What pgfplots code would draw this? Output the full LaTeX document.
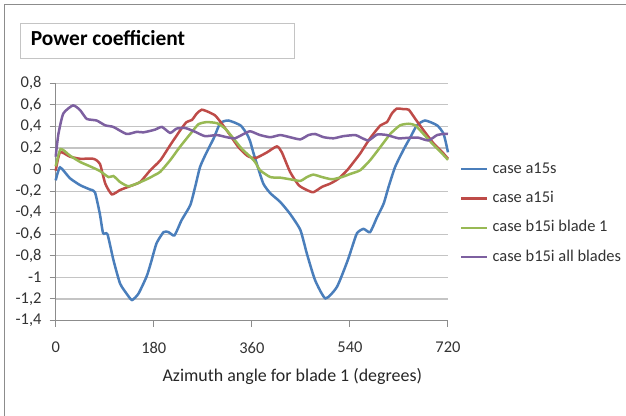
\documentclass[border=0pt]{standalone}
\usepackage{pgfplots}
\pgfplotsset{compat=1.18}
\usepackage{fontspec}
\setmainfont{Carlito}
\definecolor{cblue}{HTML}{4A7EBB}
\definecolor{cred}{HTML}{BE4B48}
\definecolor{cgreen}{HTML}{98B954}
\definecolor{cpurple}{HTML}{7D60A0}
\definecolor{gridc}{HTML}{C4C4C4}
\definecolor{axc}{HTML}{8C8C8C}
\begin{document}
\begin{tikzpicture}
\path[use as bounding box] (0,0) rectangle (626bp,-416bp);
\draw[axc, line width=1.5bp] (4.5bp,-416bp) -- (4.5bp,-4.5bp) -- (626bp,-4.5bp);
\draw[gridc, line width=1bp] (20bp,-23.3bp) rectangle (294.3bp,-58.3bp);
\node[anchor=base west, inner sep=0pt, font=\bfseries\fontsize{21.5}{25}\selectfont] at (30.7bp,-45.5bp) {Power coefficient};
\begin{axis}[
  at={(55.7bp,-320.5bp)}, anchor=south west,
  scale only axis, width=392.3bp, height=237.2bp,
  xmin=0, xmax=720, ymin=-1.4, ymax=0.8,
  axis lines*=left,
  axis line style={axc, line width=1bp},
  xtick={0,180,360,540,720},
  xticklabels={0,180,360,540,720},
  ytick={-1.4,-1.2,-1,-0.8,-0.6,-0.4,-0.2,0,0.2,0.4,0.6,0.8},
  yticklabels={{-1,4},{-1,2},{-1},{-0,8},{-0,6},{-0,4},{-0,2},{0},{0,2},{0,4},{0,6},{0,8}},
  tick align=outside, major tick length=6bp,
  tick style={axc, line width=1bp},
  ymajorgrids, grid style={gridc, line width=1.2bp},
  ticklabel style={font=\fontsize{16.5}{19}\selectfont, text=black!80},
  yticklabel style={anchor=east, inner sep=0pt, xshift=-8bp},
  xticklabel style={anchor=north, inner sep=0pt, yshift=-15.5bp},
  xlabel={Azimuth angle for blade 1 (degrees)},
  xlabel style={at={(axis description cs:0.603,-0.258)}, anchor=base, inner sep=0pt, font=\fontsize{18}{21}\selectfont, text=black!85},
  clip=false,
  legend style={at={(axis description cs:1.022,0.681)}, anchor=north west, draw=none, fill=none,
    font=\fontsize{16.5}{19}\selectfont, text=black!80, row sep=13.3bp, column sep=4bp,
    nodes={inner sep=0pt, text height=12bp, text depth=4bp, anchor=west}},
  legend cell align=left,
  legend image code/.code={\draw[#1] (0bp,0bp) -- (26.3bp,0bp);},
  every axis plot/.append style={line width=2.5bp, smooth, tension=0.35},
]
\addplot[cblue] coordinates {
(0,-0.10) (8,0.02) (26,-0.08) (45,-0.145) (63,-0.185) (72,-0.21) (81,-0.41) (87,-0.59) (95,-0.60)
(106,-0.84) (118,-1.055) (130,-1.15) (140,-1.21) (152,-1.15) (167,-0.99) (175,-0.86) (185,-0.685)
(198,-0.58) (207,-0.58) (218,-0.61) (231,-0.47) (247,-0.33) (256,-0.16) (265,0.025) (277,0.16)
(290,0.29) (302,0.43) (317,0.455) (339,0.41) (351,0.33) (357,0.26) (362,0.17) (369,0.055) (381,-0.13)
(394,-0.22) (412,-0.30) (430,-0.41) (449,-0.56) (461,-0.78) (476,-1.025) (495,-1.195) (516,-1.09)
(535,-0.855) (544,-0.72) (553,-0.59) (565,-0.55) (577,-0.58) (590,-0.44) (602,-0.315) (611,-0.16)
(623,0.025) (639,0.19) (651,0.30) (663,0.41) (678,0.455) (700,0.41) (712,0.33) (720,0.16)
};
\addlegendentry{case a15s}
\addplot[cred] coordinates {
(0,-0.01) (8,0.16) (26,0.12) (45,0.10) (69,0.10) (81,0.055) (91,-0.13) (103,-0.23) (118,-0.19)
(136,-0.155) (155,-0.115) (173,-0.01) (192,0.086) (210,0.225) (228,0.36) (240,0.44) (250,0.46)
(259,0.52) (268,0.555) (280,0.535) (293,0.50) (305,0.425) (320,0.32) (335,0.21) (351,0.13) (360,0.11)
(369,0.11) (388,0.16) (406,0.215) (415,0.16) (430,-0.02) (446,-0.145) (461,-0.19) (473,-0.21)
(489,-0.16) (504,-0.13) (519,-0.085) (535,-0.006) (550,0.09) (559,0.15) (577,0.29) (596,0.41)
(608,0.44) (617,0.52) (626,0.565) (639,0.56) (648,0.555) (660,0.47) (675,0.365) (694,0.24)
(709,0.165) (720,0.10)
};
\addlegendentry{case a15i}
\addplot[cgreen] coordinates {
(0,0.03) (9,0.19) (26,0.13) (45,0.07) (63,0.03) (81,-0.013) (97,-0.07) (106,-0.06) (118,-0.115)
(133,-0.155) (149,-0.13) (167,-0.09) (173,-0.075) (182,-0.05) (192,-0.02) (210,0.086) (228,0.21)
(247,0.33) (262,0.42) (277,0.44) (296,0.43) (311,0.38) (326,0.29) (342,0.19) (357,0.12) (366,0.07)
(375,-0.006) (394,-0.07) (412,-0.075) (430,-0.09) (449,-0.105) (461,-0.07) (473,-0.047) (489,-0.07)
(507,-0.09) (525,-0.07) (541,-0.04) (559,-0.006) (577,0.086) (596,0.21) (614,0.33) (632,0.41)
(648,0.425) (660,0.41) (675,0.33) (694,0.225) (709,0.15) (720,0.09)
};
\addlegendentry{case b15i blade 1}
\addplot[cpurple] coordinates {
(0,0.12) (5,0.33) (14,0.52) (32,0.595) (45,0.55) (57,0.47) (75,0.455) (91,0.41) (106,0.395)
(130,0.33) (149,0.35) (161,0.345) (182,0.37) (195,0.395) (210,0.34) (222,0.38) (238,0.385)
(256,0.35) (274,0.31) (296,0.32) (314,0.30) (329,0.29) (345,0.33) (357,0.355) (375,0.32) (394,0.30)
(412,0.32) (430,0.30) (449,0.28) (464,0.32) (476,0.33) (492,0.30) (510,0.29) (528,0.31) (550,0.32)
(559,0.30) (574,0.27) (590,0.325) (608,0.32) (629,0.29) (648,0.295) (666,0.295) (684,0.27)
(700,0.32) (712,0.33) (720,0.33)
};
\addlegendentry{case b15i all blades}
\end{axis}
\end{tikzpicture}
\end{document}
